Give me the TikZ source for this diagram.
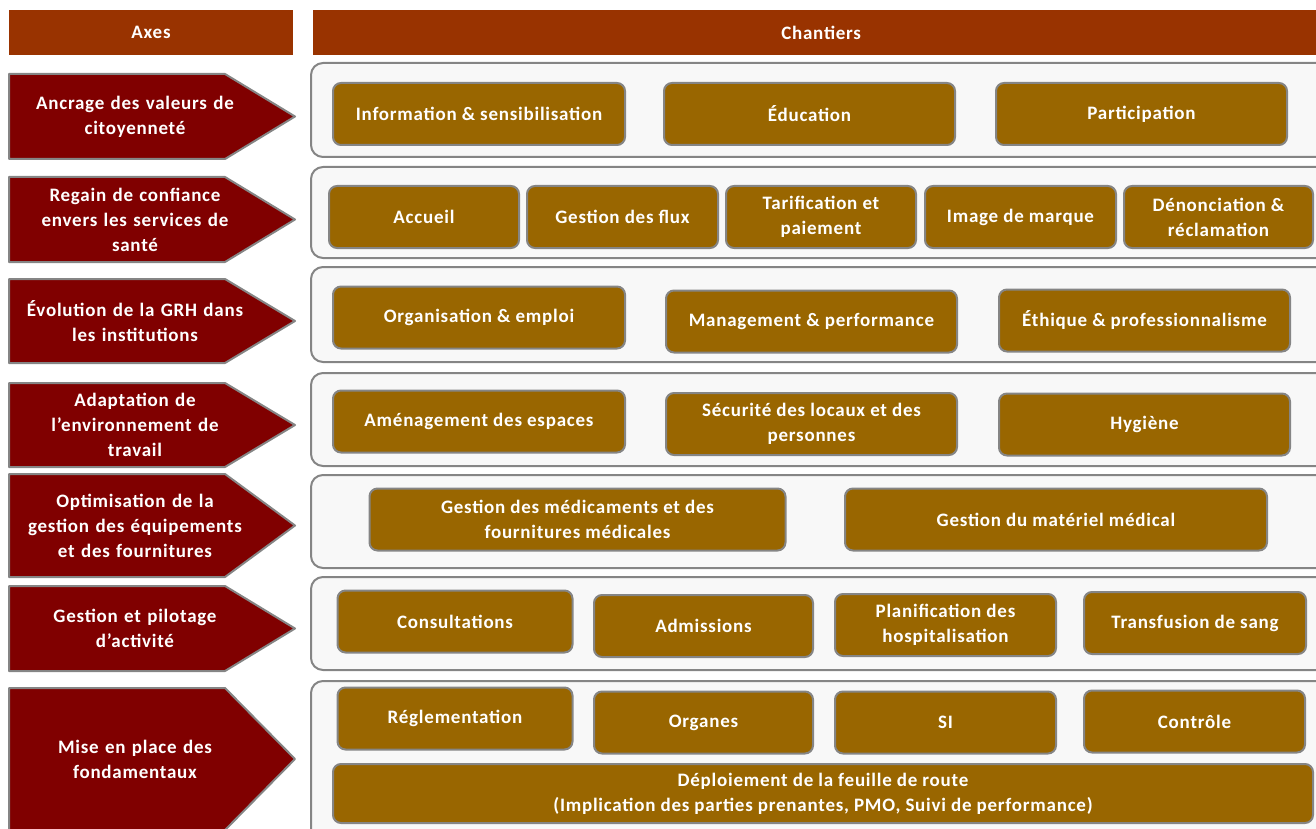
\documentclass[tikz,border=0pt]{standalone}
\usepackage{fontspec}
\setmainfont{Carlito}[LetterSpace=4]
\definecolor{entete}{HTML}{993300}
\definecolor{rougeaxe}{HTML}{800000}
\definecolor{brunchantier}{HTML}{996600}
\definecolor{grisbord}{HTML}{858585}
\definecolor{grisfond}{HTML}{F8F8F8}
% fleche d'un axe : nom, haut, bas, texte
\newcommand{\axe}[4]{%
	\draw[fleche] (9,#2) -- (225,#2) -- (295,{(#2+#3)/2}) -- (225,#3) -- (9,#3) -- cycle;
	\node[texteaxe] (#1) at (135,{(#2+#3)/2}) {#4};}
\begin{document}
\begin{tikzpicture}[x=1pt, y=-1pt, line join=round, font=\fontsize{19}{25}\selectfont\bfseries]
	\tikzset{titre/.style={fill=entete, text=white, inner sep=0pt},
		fleche/.style={fill=rougeaxe, draw=grisbord, line width=2pt},
		texteaxe/.style={text=white, align=center, text width=230pt, inner sep=0pt},
		cadre/.style={fill=grisfond, draw=grisbord, line width=2pt, rounded corners=12pt},
		chantier/.style={fill=brunchantier, draw=grisbord, line width=2pt, rounded corners=8pt, text=white, align=center, inner sep=2pt, minimum height=62pt}}
	\useasboundingbox (0,0) rectangle (1316,829);
	\clip (0,0) rectangle (1316,829);
	% en-tetes
	\node[titre, minimum width=284pt, minimum height=45pt] (axes) at (151,32.5) {Axes};
	\node[titre, minimum width=1016pt, minimum height=45pt, anchor=west] (chantiers) at (313,32.5) {Chantiers};
	% cadres des chantiers
	\foreach \h/\b in {63/157, 167/258, 267/362, 373/466, 475/568, 577/670, 681/845}
		\draw[cadre] (311,\h) rectangle (1340,\b);
	% axes
	\axe{ancrage}{74}{159}{Ancrage des valeurs de\\citoyenneté}
	\axe{confiance}{177}{262}{Regain de confiance\\envers les services de\\santé}
	\axe{grh}{279}{363}{Évolution de la GRH dans\\les institutions}
	\axe{environnement}{383}{467}{Adaptation de\\l’environnement de\\travail}
	\axe{equipements}{474}{577}{Optimisation de la\\gestion des équipements\\et des fournitures}
	\axe{pilotage}{586}{671}{Gestion et pilotage\\d’activité}
	\axe{fondamentaux}{688}{830}{Mise en place des\\fondamentaux}
	% chantiers
	\node[chantier, minimum width=292pt] (information) at (479,114) {Information \& sensibilisation};
	\node[chantier, minimum width=291pt] (education) at (809.5,114) {Éducation};
	\node[chantier, minimum width=291pt] (participation) at (1141.5,114) {Participation};
	\node[chantier, minimum width=190pt] (accueil) at (424,217) {Accueil};
	\node[chantier, minimum width=191pt] (flux) at (622.5,217) {Gestion des flux};
	\node[chantier, minimum width=190pt] (tarification) at (821,217) {Tarification et\\paiement};
	\node[chantier, minimum width=191pt] (image) at (1020.5,217) {Image de marque};
	\node[chantier, minimum width=189pt] (denonciation) at (1218.5,217) {Dénonciation \&\\réclamation};
	\node[chantier, minimum width=292pt] (organisation) at (479,317.5) {Organisation \& emploi};
	\node[chantier, minimum width=291pt] (management) at (811.5,321.5) {Management \& performance};
	\node[chantier, minimum width=291pt] (ethique) at (1144.5,320.5) {Éthique \& professionnalisme};
	\node[chantier, minimum width=292pt] (amenagement) at (479,421.5) {Aménagement des espaces};
	\node[chantier, minimum width=291pt] (securite) at (811.5,424) {Sécurité des locaux et des\\personnes};
	\node[chantier, minimum width=291pt] (hygiene) at (1144.5,424.5) {Hygiène};
	\node[chantier, minimum width=416pt] (medicaments) at (577.5,519.5) {Gestion des médicaments et des\\fournitures médicales};
	\node[chantier, minimum width=422pt] (materiel) at (1056,519.5) {Gestion du matériel médical};
	\node[chantier, minimum width=235pt] (consultations) at (455,621.5) {Consultations};
	\node[chantier, minimum width=219pt] (admissions) at (703.5,626) {Admissions};
	\node[chantier, minimum width=221pt] (planification) at (945.5,625) {Planification des\\hospitalisation};
	\node[chantier, minimum width=222pt] (transfusion) at (1195,623) {Transfusion de sang};
	\node[chantier, minimum width=235pt] (reglementation) at (455,718.5) {Réglementation};
	\node[chantier, minimum width=219pt] (organes) at (703.5,722.5) {Organes};
	\node[chantier, minimum width=221pt] (si) at (945.5,722.5) {SI};
	\node[chantier, minimum width=221pt] (controle) at (1194.5,721.5) {Contrôle};
	\node[chantier, minimum width=980pt, minimum height=59pt] (deploiement) at (823,793.5) {Déploiement de la feuille de route\\(Implication des parties prenantes, PMO, Suivi de performance)};
\end{tikzpicture}
\end{document}
